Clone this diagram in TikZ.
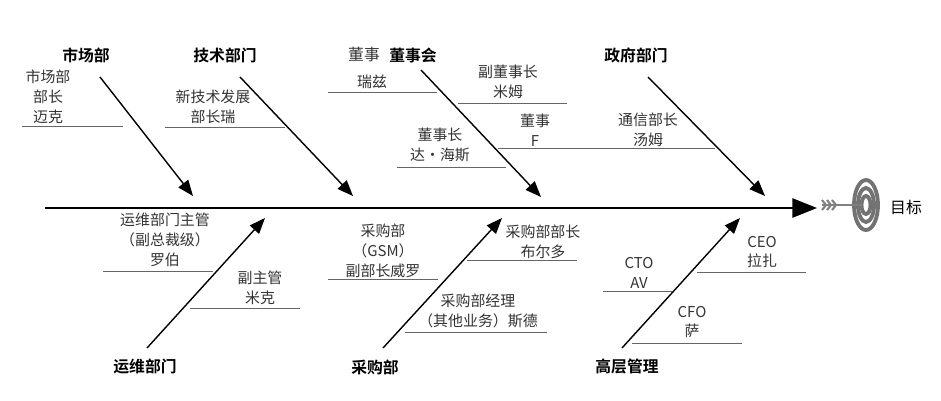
\documentclass[tikz,border=0pt]{standalone}
\usepackage{fontspec}
\setmainfont{Liberation Serif}
\newfontfamily\cjk{Noto Sans CJK SC}
\newfontfamily\cjkb{Noto Sans CJK SC}[BoldFont={Noto Sans CJK SC Bold}]
\usetikzlibrary{arrows.meta}
\begin{document}
\begin{tikzpicture}[x=0.02cm, y=-0.02cm,
   cat_style/.style={font=\cjkb\fontsize{9}{11}\selectfont\bfseries, inner sep=0pt},
   txt_style/.style={font=\cjk\fontsize{8.5}{11.3}\selectfont, align=center, inner sep=0pt, text=black!80},
   bone_style/.style={draw=black, thick, -{Triangle[length=9pt,width=7pt]}},
   under_style/.style={draw=black!60, thin}]
  \useasboundingbox (0,0) rectangle (941,400);
  % spine
  \coordinate (s0) at (45,208);
  \coordinate (s1) at (817,208);
  \draw [draw=black, thick, -{Triangle[length=14pt,width=11pt]}] (s0) -- (s1);
  % target
  \foreach \rx/\ry in {12/25, 8/17, 4.5/9}
    \draw [black!55, line width=2.2pt] (866,205) ellipse [x radius=\rx, y radius=\ry];
  \draw [black!50, line width=1.5pt] (822,205) -- (862,205);
  \foreach \dx in {0,5,10}
    \draw [black!50, line width=1.2pt] (822+\dx,200) -- (826+\dx,205) -- (822+\dx,210);
  \node [font=\cjk\fontsize{9}{11}\selectfont, anchor=west] (goal) at (884,207) {目标};

  % categories
  \node [cat_style] (c1) at (86,55)  {市场部};
  \node [cat_style] (c2) at (225,55) {技术部门};
  \node [cat_style] (c3) at (413,55) {董事会};
  \node [cat_style] (c4) at (636,55) {政府部门};
  \node [cat_style] (c5) at (145,367) {运维部门};
  \node [cat_style] (c6) at (375,367) {采购部};
  \node [cat_style] (c7) at (627,367) {高层管理};
  \node [txt_style, font=\cjk\fontsize{9}{11}\selectfont] (c3a) at (364,55) {董事};

  % bones
  \foreach \from/\fx/\fy/\tx/\ty in {c1/100/77/193/196, c2/240/77/353/196, c3/421/70/541/197, c4/648/77/765/196,
                                     c5/147/348/265/218, c6/383/348/502/218, c7/622/348/740/218} {
    \coordinate (\from s) at (\fx,\fy);
    \coordinate (\from e) at (\tx,\ty);
    \draw [bone_style] (\from s) -- (\from e);
  }

  % labels with underlines
  \foreach \name/\x/\y/\xa/\xb/\yl/\txt in {
      t1/48/97/22/123/126/{市场部\\部长\\迈克},
      t2/213/107/165/285/127/{新技术发展\\部长瑞},
      t3/372/82/328/437/92/{瑞兹},
      t4/508/82/458/567/103/{副董事长\\米姆},
      t5/535/130/498/607/148/{董事\\F},
      t6/440/145/397/506/167/{董事长\\达·海斯},
      t7/648/130/600/715/148/{通信部长\\汤姆},
      t8/165/240/103/213/271/{运维部门主管\\（副总裁级）\\罗伯},
      t9/260/288/190/300/308/{副主管\\米克},
      t10/383/251/328/438/279/{采购部\\（GSM）\\副部长威罗},
      t11/543/242/467/577/260/{采购部部长\\布尔多},
      t12/478/311/405/547/332/{采购部经理\\（其他业务）斯德},
      t13/762/252/697/806/272/{CEO\\拉扎},
      t14/639/273/603/672/291/{CTO\\AV},
      t15/692/322/632/742/343/{CFO\\萨}} {
    \node [txt_style] (\name) at (\x,\y) {\txt};
    \draw [under_style] (\xa,\yl) -- (\xb,\yl);
  }
\end{tikzpicture}
\end{document}
